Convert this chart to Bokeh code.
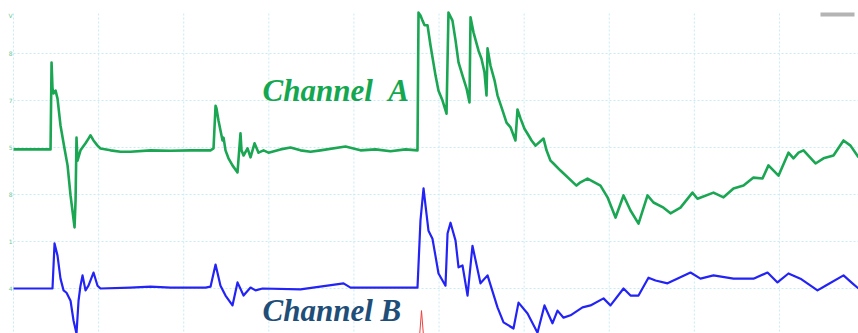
from bokeh.plotting import figure
from bokeh.models import Range1d, Label, BoxAnnotation
from bokeh.embed import file_html
from bokeh.resources import INLINE
from bokeh.core.properties import value

# ---- data (time in 1/100 division, amplitude in divisions) ----
time_a = [0, 43.5, 44.7, 45.8, 47.0, 49.4, 51.7, 55.2, 59.9, 63.5, 67.0, 71.7, 72.9, 74.0, 75.2,
          78.7, 84.6, 88.1, 90.5, 94.0, 98.7, 102.2, 114.0, 125.7, 137.5, 161.0, 184.5, 208.0,
          231.5, 235.0, 237.4, 238.5, 240.9, 243.2, 245.6, 246.8, 249.1, 252.6, 257.3, 263.2,
          266.7, 267.9, 270.3, 275.0, 278.5, 283.2, 287.9, 293.8, 299.6, 313.7, 325.5, 337.2,
          349.0, 360.7, 390.1, 407.7, 425.4, 443.0, 460.6, 474.7, 475.9, 478.2, 480.6, 483.0,
          486.5, 490.0, 495.9, 499.4, 504.1, 508.8, 511.1, 515.8, 519.4, 522.9, 527.6, 532.3,
          535.8, 537.0, 540.5, 546.4, 549.9, 553.4, 555.8, 557.0, 560.5, 565.2, 568.7, 574.6,
          579.3, 584.0, 589.8, 592.2, 595.7, 600.4, 605.1, 608.7, 613.4, 622.8, 626.3, 631.0,
          634.5, 642.7, 661.5, 666.2, 674.5, 689.7, 698.0, 707.4, 716.8, 725.0, 734.4, 745.0,
          752.0, 763.8, 772.0, 783.7, 797.8, 803.7, 822.5, 834.3, 846.0, 857.8, 869.5, 880.1,
          887.1, 898.9, 910.6, 916.5, 922.4, 928.3, 942.4, 951.8, 963.5, 975.3, 983.5, 992.9]
channel_a = [3.96, 3.96, 5.81, 5.26, 5.15, 5.21, 5.04, 4.47, 3.98, 3.62, 2.98, 2.30, 2.87, 4.21, 3.72,
             3.94, 4.09, 4.19, 4.26, 4.15, 4.04, 3.98, 3.94, 3.91, 3.91, 3.94, 3.93, 3.94,
             3.94, 3.98, 4.89, 4.83, 4.57, 4.36, 4.15, 4.21, 3.94, 3.77, 3.62, 3.47,
             4.30, 3.94, 3.83, 3.98, 3.79, 4.09, 3.89, 3.94, 3.89, 3.96, 4.00, 3.94,
             3.91, 3.94, 4.02, 3.94, 3.96, 3.92, 3.96, 3.94, 6.87, 6.81, 6.70, 6.60,
             6.60, 6.17, 5.53, 5.21, 5.00, 4.72, 6.87, 6.70, 6.28, 5.81, 5.53, 5.26,
             4.96, 6.77, 6.45, 6.06, 5.89, 5.60, 5.11, 6.11, 5.74, 5.43, 5.11, 4.79,
             4.53, 4.43, 4.15, 4.81, 4.62, 4.40, 4.26, 4.15, 4.04, 4.19, 3.94, 3.72,
             3.66, 3.51, 3.19, 3.26, 3.34, 3.19, 2.94, 2.51, 2.98, 2.66, 2.38, 2.98,
             2.83, 2.72, 2.60, 2.72, 3.04, 2.91, 3.04, 2.94, 3.13, 3.19, 3.36, 3.34,
             3.62, 3.40, 3.89, 3.77, 3.89, 3.94, 3.66, 3.77, 3.83, 4.15, 4.04, 3.79]

time_b = [0, 45.8, 48.2, 51.7, 55.2, 58.8, 62.3, 67.0, 70.5, 74.0, 76.4, 78.7, 81.1, 84.6, 88.1,
          94.0, 98.7, 102.2, 137.5, 161.0, 184.5, 225.6, 231.5, 237.4, 243.2, 249.1, 257.3,
          263.2, 270.3, 278.5, 284.4, 292.6, 337.2, 387.8, 396.0, 474.7, 478.2, 481.8, 484.1,
          487.6, 492.3, 499.4, 507.6, 510.0, 513.5, 519.4, 522.9, 527.6, 533.5, 539.3, 548.7,
          557.0, 568.7, 575.8, 587.5, 593.4, 604.0, 615.7, 623.9, 633.3, 639.2, 646.3, 654.5,
          668.6, 678.0, 693.3, 701.5, 716.8, 725.0, 734.4, 746.1, 754.4, 768.5, 795.5, 807.2,
          822.5, 846.0, 869.5, 886.0, 897.7, 910.6, 924.7, 944.7, 954.1, 975.3, 985.8, 992.9]
channel_b = [1.00, 1.00, 1.96, 1.70, 1.21, 0.96, 0.91, 0.74, 0.32, 0.04, 0.74, 1.06, 1.28, 0.96, 1.06,
             1.34, 1.06, 1.00, 1.02, 1.04, 1.02, 1.02, 1.04, 1.51, 1.06, 0.85, 0.64,
             1.13, 0.85, 1.02, 0.96, 1.00, 0.98, 1.11, 1.02, 1.02, 2.45, 3.13, 2.77,
             2.23, 2.06, 1.32, 1.06, 2.17, 2.40, 2.02, 1.45, 1.49, 0.85, 1.91, 1.11,
             1.28, 0.60, 0.28, 0.15, 0.70, 0.47, 0.06, 0.64, 0.26, 0.53, 0.38, 0.43,
             0.60, 0.64, 0.79, 0.64, 1.00, 0.85, 0.85, 1.23, 1.17, 1.11, 1.34, 1.21,
             1.28, 1.21, 1.21, 1.34, 1.13, 1.32, 1.21, 0.96, 1.06, 1.28, 1.11, 1.00]

time_c = [477.1, 479.4, 481.8]
channel_c = [-0.02, 0.53, -0.02]

x_grid = [0, 100, 200, 300, 400, 500, 600, 700, 800, 900]
y_grid = [1, 2, 3, 4, 5, 6]
y_tick_pos = [6.81, 6, 5, 4, 3, 2, 1]
y_tick_labels = ["V", "8", "7", "5", "8", "1", "4"]

p = figure(width=858, height=333, output_backend="svg", toolbar_location=None,
           x_range=Range1d(-15.3, 992.9), y_range=Range1d(0.043, 7.128),
           x_axis_location=None, y_axis_location=None, min_border=0)
p.outline_line_color = None
p.xgrid.visible = False
p.ygrid.visible = False
p.background_fill_color = "white"

grid_col = "#c9ebf3"
p.segment(x0=x_grid, y0=[0.0] * len(x_grid), x1=x_grid, y1=[6.87] * len(x_grid),
          line_color=grid_col, line_width=1, line_dash="2 2")
p.segment(x0=[0] * len(y_grid), y0=y_grid, x1=[992.9] * len(y_grid), y1=y_grid,
          line_color=grid_col, line_width=1, line_dash="2 2")

p.text(x=[-3.5] * len(y_tick_pos), y=y_tick_pos, text=y_tick_labels,
       text_font_size="6px", text_color="#6cc796", text_align="center",
       text_baseline="middle", text_font=value("DejaVu Sans"))

p.line(time_a, channel_a, line_color="#1ba653", line_width=2.6, line_join="round")
p.line(time_b, channel_b, line_color="#2323f5", line_width=2.2, line_join="round")
p.line(time_c, channel_c, line_color="#f04040", line_width=1.0)

p.add_layout(Label(x=262, y=243, x_units="screen", y_units="screen", text="Channel\u00a0\u00a0A",
                   text_font="Liberation Serif", text_font_style="bold italic",
                   text_font_size="31px", text_color="#14a750", text_baseline="alphabetic"))
p.add_layout(Label(x=262, y=23, x_units="screen", y_units="screen", text="Channel B",
                   text_font="Liberation Serif", text_font_style="bold italic",
                   text_font_size="31px", text_color="#1f4e79", text_baseline="alphabetic"))

p.add_layout(BoxAnnotation(left=820, right=854, top=321, bottom=317,
                           left_units="screen", right_units="screen",
                           top_units="screen", bottom_units="screen",
                           fill_color="#b4b4b4", fill_alpha=1.0, line_color=None))

open("out.html", "w").write(file_html(p, INLINE))
